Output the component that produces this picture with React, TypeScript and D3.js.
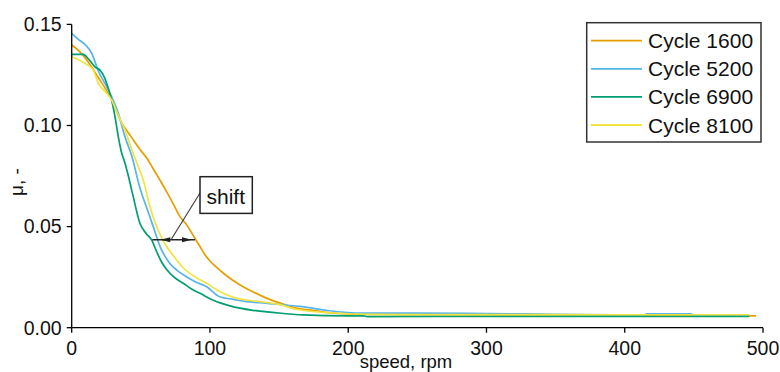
import React from "react";
import * as d3 from "d3";

const seriesNames = ["Cycle 1600", "Cycle 5200", "Cycle 6900", "Cycle 8100"];
const seriesColors = ["#E69F00", "#56B4E9", "#009E73", "#F0E442"];

const speed1600 = [0, 5, 10, 19, 29, 36, 43, 49, 55, 59, 64, 69, 74, 78, 83, 88, 92, 96, 100, 104, 110, 117, 124, 131, 138, 145, 155, 163, 175, 187, 200, 215, 240, 280, 330, 380, 430, 470, 495];
const mu1600 = [0.1398, 0.137, 0.1332, 0.124, 0.1126, 0.1015, 0.0945, 0.0885, 0.0832, 0.0785, 0.0728, 0.0668, 0.0605, 0.0553, 0.051, 0.0455, 0.041, 0.0365, 0.033, 0.0303, 0.0268, 0.0232, 0.0203, 0.0178, 0.0155, 0.0135, 0.0112, 0.0096, 0.0085, 0.0074, 0.0068, 0.0066, 0.0065, 0.0064, 0.0063, 0.0063, 0.0062, 0.006, 0.0058];

const speed5200 = [0, 5, 10, 14.5, 19, 26.5, 33.7, 38.5, 43.4, 49.4, 54, 59, 64, 71, 76, 83, 90, 97.6, 107, 117, 126.5, 136, 150, 165, 185, 210, 250, 300, 350, 414, 416, 448, 450, 490];
const mu5200 = [0.1456, 0.1425, 0.1398, 0.1357, 0.1274, 0.1176, 0.106, 0.0945, 0.085, 0.069, 0.0598, 0.05, 0.04, 0.0318, 0.0285, 0.0252, 0.0225, 0.0203, 0.0153, 0.014, 0.0129, 0.0124, 0.0115, 0.0105, 0.0085, 0.0072, 0.0072, 0.007, 0.0066, 0.0062, 0.0068, 0.0068, 0.0062, 0.0062];

const speed6900 = [0, 8.4, 12, 16.8, 21, 24, 25.3, 28.9, 31.3, 33.7, 36.2, 38.5, 41, 44.5, 49.4, 54, 57.8, 61.5, 65, 68.7, 74, 80.7, 87, 92.8, 102, 114.5, 131, 145, 167, 200, 211, 214, 300, 400, 490];
const mu6900 = [0.1352, 0.1352, 0.133, 0.129, 0.127, 0.1233, 0.1208, 0.1126, 0.1044, 0.0945, 0.0862, 0.0815, 0.075, 0.0648, 0.0515, 0.0465, 0.0434, 0.0375, 0.0325, 0.0288, 0.025, 0.022, 0.019, 0.017, 0.0137, 0.0108, 0.0086, 0.0076, 0.0063, 0.0058, 0.0058, 0.0055, 0.0056, 0.0056, 0.0056];

const speed8100 = [0, 5, 9.6, 15.6, 19.2, 24, 28.9, 33, 38.5, 43, 48.2, 51.8, 56.6, 61.5, 65, 68.7, 72, 75.9, 80, 85.5, 92, 97.6, 103, 109.6, 117, 126.5, 136, 150, 163, 187, 220, 300, 400, 490];
const mu8100 = [0.134, 0.1325, 0.1308, 0.1274, 0.1208, 0.117, 0.1126, 0.106, 0.0978, 0.089, 0.0796, 0.073, 0.0598, 0.05, 0.0445, 0.04, 0.037, 0.0335, 0.03, 0.0269, 0.024, 0.022, 0.0195, 0.017, 0.015, 0.0137, 0.0129, 0.0115, 0.009, 0.0074, 0.0066, 0.0065, 0.0064, 0.0064];

const xTicks = [0, 100, 200, 300, 400, 500];
const yTicks = [0, 0.05, 0.1, 0.15];
const shiftFrom = 58.3;
const shiftTo = 89.2;
const shiftMu = 0.0435;

const FONT = "'Liberation Sans', Arial, sans-serif";

export default function App() {
  const x = d3.scaleLinear().domain([0, 500]).range([71.7, 763]);
  const y = d3.scaleLinear().domain([0, 0.15]).range([327.7, 24.4]);
  const speeds = [speed1600, speed5200, speed6900, speed8100];
  const mus = [mu1600, mu5200, mu6900, mu8100];
  const line = d3
    .line<[number, number]>()
    .x((d) => x(d[0]))
    .y((d) => y(d[1]))
    .curve(d3.curveMonotoneX);

  const ay = y(shiftMu);
  const ax0 = x(shiftFrom);
  const ax1 = x(shiftTo);

  return (
    <svg
      width={780}
      height={372}
      style={{ position: "absolute", left: 0, top: 0, background: "#fff" }}
      fontFamily={FONT}
    >
      {speeds.map((sp, i) => (
        <path
          key={seriesNames[i]}
          d={line(sp.map((s, j) => [s, mus[i][j]] as [number, number])) || ""}
          fill="none"
          stroke={seriesColors[i]}
          strokeWidth={1.7}
          strokeLinejoin="round"
        />
      ))}

      <line x1={x(0)} x2={x(0)} y1={y(0.15)} y2={y(0)} stroke="#000" strokeWidth={1.3} />
      {yTicks.map((t) => (
        <g key={t}>
          <line x1={x(0) - 5} x2={x(0)} y1={y(t)} y2={y(t)} stroke="#000" strokeWidth={1.3} />
          <text x={x(0) - 10} y={y(t)} dy="0.35em" textAnchor="end" fontSize={19.5} fill="#111">
            {d3.format(".2f")(t)}
          </text>
        </g>
      ))}
      <text transform={`translate(23,182) rotate(-90)`} textAnchor="middle" fontSize={19} fill="#111">
        μ, -
      </text>

      <line x1={x(0)} x2={x(500)} y1={y(0)} y2={y(0)} stroke="#000" strokeWidth={1.3} />
      {xTicks.map((t) => (
        <g key={t}>
          <line x1={x(t)} x2={x(t)} y1={y(0)} y2={y(0) + 5} stroke="#000" strokeWidth={1.3} />
          <text x={x(t)} y={355} textAnchor="middle" fontSize={19.5} fill="#111">
            {t}
          </text>
        </g>
      ))}
      <text x={406} y={368} textAnchor="middle" fontSize={18.5} fill="#111">
        speed, rpm
      </text>

      <line x1={ax0} x2={ax1} y1={ay} y2={ay} stroke="#222" strokeWidth={1.3} />
      <path d={`M${ax0 + 8},${ay} L${ax0 + 18},${ay - 2.5} L${ax0 + 18},${ay + 2.5} Z`} fill="#222" />
      <path d={`M${ax1 - 3},${ay} L${ax1 - 13},${ay - 2.5} L${ax1 - 13},${ay + 2.5} Z`} fill="#222" />
      <line x1={171} y1={ay} x2={200} y2={193} stroke="#444" strokeWidth={1.2} />
      <rect x={200} y={176.7} width={52.3} height={36.7} fill="#fff" stroke="#222" strokeWidth={1.5} />
      <text x={206.5} y={204} fontSize={21} fill="#111">
        shift
      </text>

      <rect x={586.7} y={22.7} width={174.3} height={119.3} fill="#fff" stroke="#333" strokeWidth={1.5} />
      {seriesNames.map((n, i) => {
        const ly = 40.7 + i * 28.1;
        return (
          <g key={n}>
            <line x1={591} x2={642} y1={ly} y2={ly} stroke={seriesColors[i]} strokeWidth={1.8} />
            <text x={648} y={ly + 7.5} fontSize={21} fill="#111">
              {n}
            </text>
          </g>
        );
      })}
    </svg>
  );
}
